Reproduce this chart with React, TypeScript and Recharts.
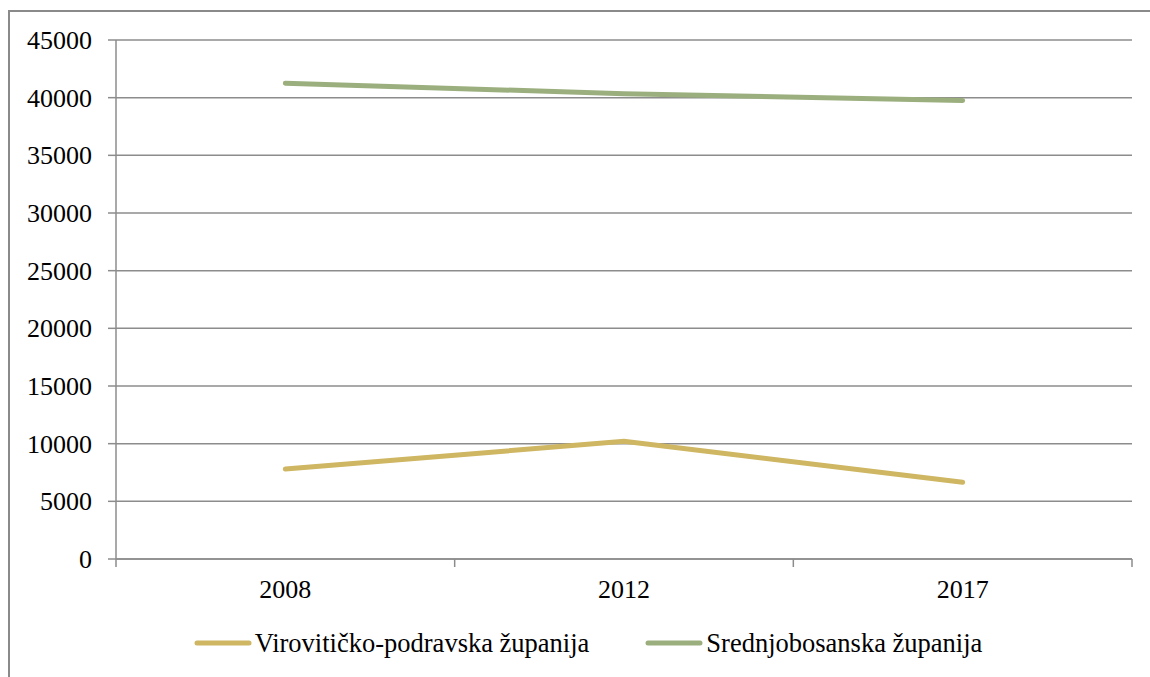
import React from 'react';
import { LineChart, Line, XAxis, YAxis, CartesianGrid, Legend } from 'recharts';

const years = ['2008', '2012', '2017'];
const viroviticko = [7800, 10200, 6650];
const srednjobosanska = [41250, 40350, 39750];
const yTicks = [0, 5000, 10000, 15000, 20000, 25000, 30000, 35000, 40000, 45000];
const seriesNames = ['Virovitičko-podravska županija', 'Srednjobosanska županija'];
const seriesColors = ['#CEB662', '#9BAF7E'];

const data = years.map((year, i) => ({
  x: i + 0.5,
  year,
  v: viroviticko[i],
  s: srednjobosanska[i],
}));

const xTicks: number[] = [];
for (let i = 0; i <= years.length; i++) {
  xTicks.push(i);
  if (i < years.length) xTicks.push(i + 0.5);
}

const FONT = '"Liberation Serif", "Times New Roman", serif';
const AXIS = '#8c8c8c';

const XTick = (props: any) => {
  const { x, y, payload } = props;
  const v = payload.value as number;
  if (Number.isInteger(v)) {
    return <line x1={x} y1={y} x2={x} y2={y + 8} stroke={AXIS} strokeWidth={1.5} />;
  }
  return (
    <text x={x} y={y + 39} textAnchor="middle" style={{ fontFamily: FONT, fontSize: 26 }} fill="#000">
      {years[Math.floor(v)]}
    </text>
  );
};

const YTick = (props: any) => {
  const { x, y, payload } = props;
  return (
    <text x={x} y={y} dy={9} textAnchor="end" style={{ fontFamily: FONT, fontSize: 26 }} fill="#000">
      {payload.value}
    </text>
  );
};

const LegendContent = () => {
  return (
    <div
      style={{
        height: 68,
        width: '100%',
        boxSizing: 'border-box',
        paddingLeft: 34,
        display: 'flex',
        justifyContent: 'center',
        alignItems: 'center',
        fontFamily: FONT,
        fontSize: 26.5,
        color: '#000',
      }}
    >
      {seriesNames.map((name, i) => (
        <div key={i} style={{ display: 'flex', alignItems: 'center', marginLeft: i > 0 ? 56 : 0 }}>
          <svg width={58} height={10} style={{ marginRight: 3 }}>
            <line x1={3} y1={5} x2={55} y2={5} stroke={seriesColors[i]} strokeWidth={5} strokeLinecap="round" />
          </svg>
          <span>{name}</span>
        </div>
      ))}
    </div>
  );
};

export default function App() {
  return (
    <div
      style={{
        position: 'absolute',
        left: 8,
        top: 10,
        width: 1142,
        height: 667,
        borderTop: '2px solid #8a8a8a',
        borderLeft: '2px solid #8a8a8a',
        boxSizing: 'border-box',
        background: '#fff',
      }}
    >
      <LineChart
        width={1140}
        height={665}
        data={data}
        margin={{ top: 28, right: 18, left: 0, bottom: 0 }}
      >
        <CartesianGrid vertical={false} stroke={AXIS} strokeWidth={1.5} />
        <XAxis
          dataKey="x"
          type="number"
          domain={[0, years.length]}
          ticks={xTicks}
          interval={0}
          tick={<XTick />}
          tickLine={false}
          tickSize={0}
          tickMargin={0}
          height={50}
          axisLine={{ stroke: AXIS, strokeWidth: 1.5 }}
        />
        <YAxis
          domain={[0, 45000]}
          ticks={yTicks}
          interval={0}
          width={106}
          tickSize={8}
          tickMargin={16}
          axisLine={{ stroke: AXIS, strokeWidth: 1.5 }}
          tickLine={{ stroke: AXIS, strokeWidth: 1.5 }}
          tick={<YTick />}
        />
        <Legend verticalAlign="bottom" content={<LegendContent />} />
        <Line
          dataKey="v"
          name={seriesNames[0]}
          stroke={seriesColors[0]}
          strokeWidth={5}
          strokeLinecap="round"
          dot={false}
          activeDot={false}
          isAnimationActive={false}
        />
        <Line
          dataKey="s"
          name={seriesNames[1]}
          stroke={seriesColors[1]}
          strokeWidth={5}
          strokeLinecap="round"
          dot={false}
          activeDot={false}
          isAnimationActive={false}
        />
      </LineChart>
    </div>
  );
}
